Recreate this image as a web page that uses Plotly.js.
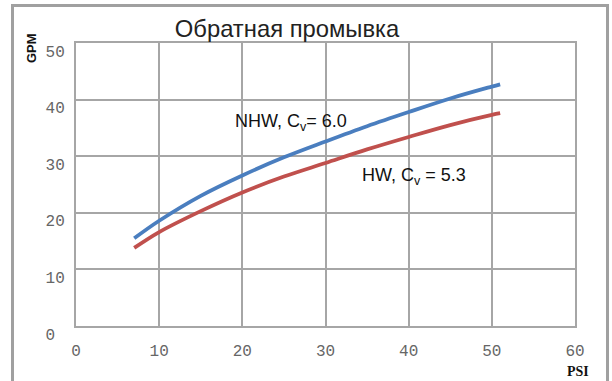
<!DOCTYPE html>
<html><head><meta charset="utf-8">
<script src="https://cdn.plot.ly/plotly-3.0.1.min.js"></script>
<style>
html,body{margin:0;padding:0;background:#fff;}
#wrap{position:relative;width:612px;height:381px;overflow:hidden;}
#frame{position:absolute;left:11px;top:4px;width:592px;height:400px;border:3px solid #a0a0a0;border-bottom:none;}
#chart{position:absolute;left:0;top:0;width:612px;height:381px;}
</style></head>
<body><div id="wrap"><div id="frame"></div><div id="chart"></div></div>
<script>
const psi = [7, 10, 15, 20, 25, 30, 35, 40, 45, 50, 51];
const gpmNHW = [15.5, 18.6, 23.0, 26.6, 29.8, 32.6, 35.3, 37.8, 40.2, 42.3, 42.7];
const gpmHW  = [13.8, 16.6, 20.3, 23.6, 26.4, 28.8, 31.2, 33.4, 35.5, 37.3, 37.6];
const xTicks = [0, 10, 20, 30, 40, 50, 60];
const yTicks = [0, 10, 20, 30, 40, 50];
const yTickText = ['0\u00a0', '10', '20', '30', '40', '50'];

const traces = [
  {x: psi, y: gpmNHW, mode: 'lines', line: {color: '#4a7ebf', width: 3.8, shape: 'spline'}, name: 'NHW'},
  {x: psi, y: gpmHW, mode: 'lines', line: {color: '#c0504d', width: 3.8, shape: 'spline'}, name: 'HW'}
];
const tickFont = {family: 'Liberation Mono, Courier New, monospace', size: 16, color: '#666'};
const layout = {
  width: 612, height: 381,
  margin: {l: 76, r: 37, t: 43, b: 55},
  paper_bgcolor: 'rgba(0,0,0,0)', plot_bgcolor: '#fff',
  showlegend: false,
  title: {text: 'Обратная промывка', font: {family: 'Liberation Sans, Arial, sans-serif', size: 23.8, color: '#222'},
          x: 0.469, xref: 'container', xanchor: 'center', y: 0.925, yref: 'container', yanchor: 'middle'},
  xaxis: {range: [0, 60], tickvals: xTicks, ticks: '', showgrid: true, gridcolor: '#a6a6a6', gridwidth: 2,
          showline: true, linecolor: '#a6a6a6', linewidth: 2, mirror: true, zeroline: false,
          tickfont: tickFont, ticklabelstandoff: 9, fixedrange: true},
  yaxis: {range: [0, 50], tickvals: yTicks, ticktext: yTickText, ticks: '', showgrid: true, gridcolor: '#a6a6a6', gridwidth: 2,
          showline: true, linecolor: '#a6a6a6', linewidth: 2, mirror: true, zeroline: false,
          tickfont: tickFont, ticklabelstandoff: 6, ticklabelshift: 8, fixedrange: true},
  annotations: [
    {text: 'NHW, C<sub>v</sub>= 6.0', x: 18.9, y: 35.9, xref: 'x', yref: 'y', xanchor: 'left', yanchor: 'middle', showarrow: false,
     font: {family: 'Liberation Sans, Arial, sans-serif', size: 18, color: '#111'}},
    {text: 'HW, C<sub>v</sub> = 5.3', x: 34.1, y: 26.5, xref: 'x', yref: 'y', xanchor: 'left', yanchor: 'middle', showarrow: false,
     font: {family: 'Liberation Sans, Arial, sans-serif', size: 18, color: '#111'}},
    {text: '<b>GPM</b>', x: 0, y: 1, xref: 'paper', yref: 'paper', xshift: -45, yshift: -5, showarrow: false, textangle: -90,
     xanchor: 'center', yanchor: 'middle', font: {family: 'Liberation Sans, Arial, sans-serif', size: 13, color: '#111'}},
    {text: '<b>PSI</b>', x: 1, y: 0, xref: 'paper', yref: 'paper', xshift: 3, yshift: -45, showarrow: false,
     xanchor: 'center', yanchor: 'middle', font: {family: 'Liberation Serif, Times New Roman, serif', size: 14, color: '#111'}}
  ]
};
Plotly.newPlot('chart', traces, layout, {displayModeBar: false, staticPlot: true});
</script></body></html>
